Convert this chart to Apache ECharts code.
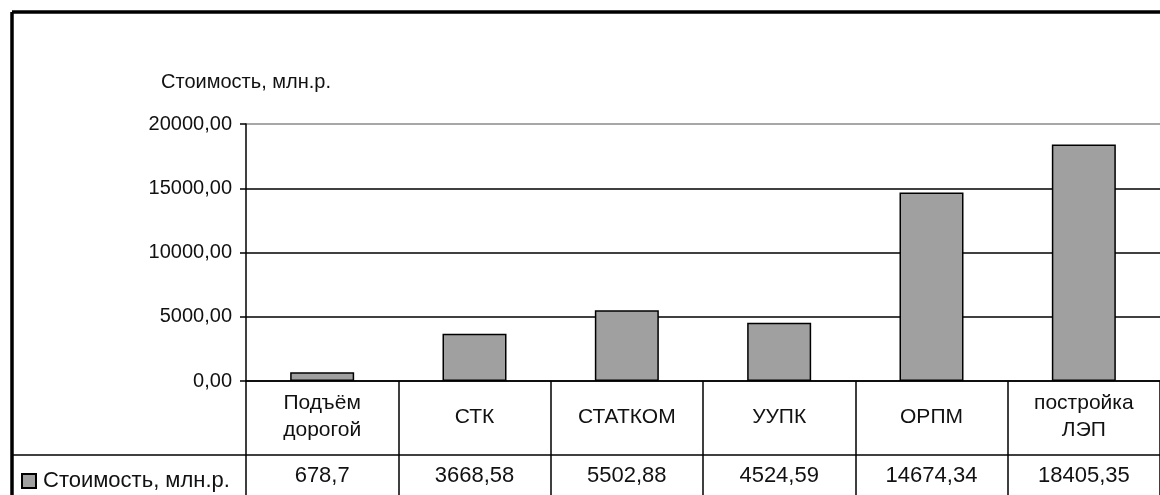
<!DOCTYPE html>
<html>
<head>
  <meta charset="utf-8" />
  <title>Стоимость, млн.р.</title>
  <script src="https://cdn.jsdelivr.net/npm/echarts@6/dist/echarts.min.js"></script>
  <style>
    html, body { margin: 0; padding: 0; background: #fff; }
    #main { width: 1160px; height: 495px; }
  </style>
</head>
<body>
<div id="main"></div>
<script>
  // данные диаграммы
  var seriesName = 'Стоимость, млн.р.';
  var categories = ['Подъём\nдорогой', 'СТК', 'СТАТКОМ', 'УУПК', 'ОРПМ', 'постройка\nЛЭП'];
  var values = [678.7, 3668.58, 5502.88, 4524.59, 14674.34, 18405.35];
  var tableText = ['678,7', '3668,58', '5502,88', '4524,59', '14674,34', '18405,35'];
  var yTicks = [0, 5000, 10000, 15000, 20000];

  var font = "'Liberation Sans', Arial, sans-serif";
  var ink = '#111';

  function fmt(v) {
    return v.toFixed(2).replace('.', ',');
  }

  var chart = echarts.init(document.getElementById('main'), null, { renderer: 'canvas' });

  var option = {
    animation: false,
    backgroundColor: '#fff',
    textStyle: { fontFamily: font, color: ink },
    grid: { left: 246, right: 0, top: 124, bottom: 114 },
    legend: {
      left: 21, top: 470, padding: 0,
      icon: 'rect',
      itemWidth: 14, itemHeight: 14, itemGap: 4,
      data: [seriesName],
      textStyle: { fontFamily: font, fontSize: 22, lineHeight: 22, color: ink, padding: [0, 0, 0, 2] }
    },
    xAxis: [{
      type: 'category',
      data: categories,
      axisLine: { show: true, lineStyle: { color: '#000', width: 1.5 } },
      axisTick: { show: true, interval: 0, length: 114, lineStyle: { color: '#000', width: 1.5 } },
      axisLabel: {
        interval: 0, margin: 36, verticalAlign: 'middle',
        fontFamily: font, fontSize: 21, color: ink, lineHeight: 27
      }
    }, {
      type: 'category',
      position: 'bottom',
      offset: 74,
      data: tableText,
      axisLine: { show: false },
      axisTick: { show: false },
      axisLabel: {
        interval: 0, margin: 21, verticalAlign: 'middle',
        fontFamily: font, fontSize: 22, color: ink
      }
    }],
    yAxis: {
      type: 'value',
      min: yTicks[0], max: yTicks[yTicks.length - 1], interval: yTicks[1] - yTicks[0],
      name: seriesName,
      nameLocation: 'end',
      nameGap: 32,
      nameTextStyle: { fontFamily: font, fontSize: 20, color: ink, align: 'center' },
      axisLine: { show: true, lineStyle: { color: '#000', width: 1.5 } },
      axisTick: { show: true, length: 6, lineStyle: { color: '#000', width: 1.5 } },
      axisLabel: { margin: 14, fontFamily: font, fontSize: 20, color: ink, formatter: fmt },
      splitLine: { show: true, lineStyle: { color: ['#000', '#000', '#000', '#000', '#8a8a8a'], width: 1.5 } }
    },
    series: [{
      name: seriesName,
      type: 'bar',
      data: values,
      barWidth: 64,
      itemStyle: { color: '#a0a0a0', borderColor: '#000', borderWidth: 1.5 }
    }],
    graphic: [
      // рамка диаграммы
      { type: 'line', shape: { x1: 12, y1: 12, x2: 1160, y2: 12 }, style: { stroke: '#000', lineWidth: 3.5 } },
      { type: 'line', shape: { x1: 12, y1: 12, x2: 12, y2: 495 }, style: { stroke: '#000', lineWidth: 3.5 } },
      // линия таблицы данных
      { type: 'line', shape: { x1: 12, y1: 455, x2: 1160, y2: 455 }, style: { stroke: '#000', lineWidth: 1.5 } }
    ]
  };

  chart.setOption(option);
</script>
</body>
</html>
